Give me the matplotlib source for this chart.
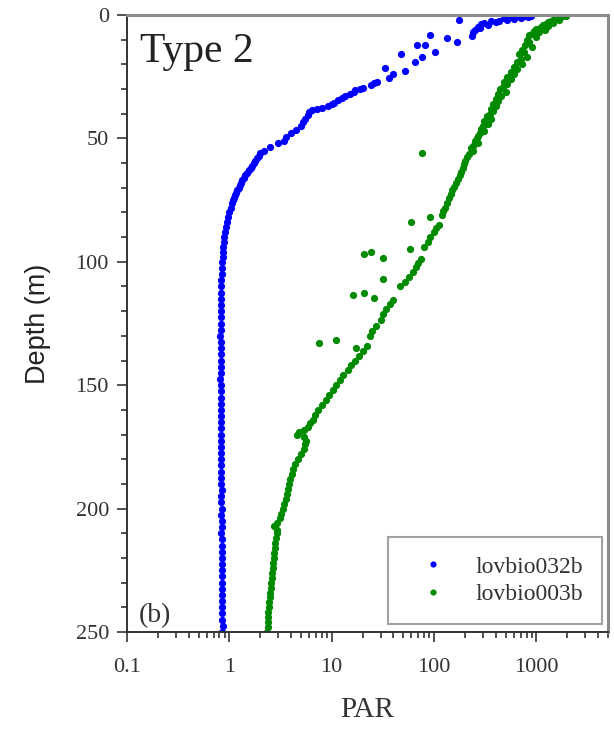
import numpy as np
import matplotlib
matplotlib.use("Agg")
import matplotlib.pyplot as plt
from matplotlib.ticker import LogLocator, FixedLocator, FixedFormatter, NullFormatter, MultipleLocator

SERIF = "Liberation Serif"
SANS = "Liberation Sans"

# profile lovbio032b (blue)
blue_depth = [0.3, 0.5, 0.6, 0.8, 1.0, 1.2, 1.4, 1.6, 1.9, 2.0,
              2.3, 2.6, 3.0, 3.3, 3.8, 4.2, 4.8, 5.3, 6.0, 7.0,
              8.0, 8.4, 9.3, 10.8, 12.0, 12.2, 15.0, 16.0, 17.0, 19.0,
              21.5, 22.5, 24.0, 25.5, 27.0, 27.5, 28.5, 29.5, 30.0, 30.5,
              31.0, 32.0, 33.0, 33.5, 34.5, 35.5, 36.0, 37.0, 37.5, 38.0,
              38.5, 39.5, 40.5, 42.0, 43.5, 45.0, 46.5, 48.0, 49.5, 51.0,
              52.0, 53.5, 55.0, 56.0, 57.0, 58.0, 59.0, 60.0, 61.0, 62.0,
              63.0, 64.0, 65.0, 66.0, 67.0, 68.0, 69.0, 70.0, 71.0, 72.0,
              73.0, 74.0, 75.0, 76.0, 78.0, 80.0, 82.0, 84.0, 86.0, 88.0,
              90.0, 92.0, 94.0, 96.0, 98.0,
              100.0, 102.5, 105.0, 107.5, 110.0, 112.5, 115.0, 117.5, 120.0, 122.5,
              125.0, 127.5, 130.0, 132.5, 135.0, 137.5, 140.0, 142.5, 145.0, 147.5,
              150.0, 152.5, 155.0, 157.5, 160.0, 162.5, 165.0, 167.5, 170.0, 172.5,
              175.0, 177.5, 180.0, 182.5, 185.0, 187.5, 190.0, 192.5, 195.0, 197.5,
              200.0, 202.5, 205.0, 207.5, 210.0, 212.5, 215.0, 217.5, 220.0, 222.5,
              225.0, 227.5, 230.0, 232.5, 235.0, 237.5, 240.0, 242.5, 245.0, 247.5,
              250.0]
blue_par = [880, 760, 650, 560, 820, 700, 480, 600, 176, 520,
            430, 360, 400, 310, 290, 340, 270, 280, 250, 240,
            91, 235, 134, 168, 81, 68, 102, 48, 76, 65,
            33, 52, 40, 36, 28, 26, 24, 20, 19, 17,
            16.5, 15, 13.5, 12.5, 11.5, 10.5, 10.0, 9.2, 8.0, 7.2,
            6.4, 6.0, 5.8, 5.5, 5.2, 5.0, 4.5, 4.0, 3.6, 3.4,
            3.0, 2.5, 2.2, 2.0, 1.95, 1.85, 1.8, 1.75, 1.68, 1.62,
            1.55, 1.48, 1.42, 1.38, 1.33, 1.3, 1.27, 1.24, 1.2, 1.17,
            1.14, 1.11, 1.09, 1.07, 1.03, 1.0, 0.97, 0.94, 0.92, 0.9,
            0.89, 0.88, 0.87, 0.86, 0.86,
            0.85, 0.84, 0.84, 0.83, 0.83, 0.82, 0.83, 0.82, 0.82, 0.83,
            0.82, 0.82, 0.81, 0.82, 0.82, 0.83, 0.82, 0.82, 0.82, 0.81,
            0.82, 0.82, 0.83, 0.82, 0.82, 0.82, 0.83, 0.82, 0.82, 0.82,
            0.82, 0.83, 0.83, 0.82, 0.83, 0.83, 0.83, 0.84, 0.83, 0.83,
            0.84, 0.83, 0.84, 0.84, 0.83, 0.84, 0.84, 0.84, 0.85, 0.84,
            0.84, 0.85, 0.84, 0.85, 0.85, 0.84, 0.85, 0.85, 0.85, 0.86,
            0.85]

# profile lovbio003b (green)
green_depth = [0.3, 0.6, 1.0, 1.3, 1.6, 2.0, 2.4, 2.8, 3.2, 3.6,
               4.0, 4.5, 5.0, 5.5, 6.0, 6.5, 7.0, 7.5, 8.0, 9.0,
               10.0, 11.0, 12.0, 13.0, 14.0, 15.0, 16.0, 17.0, 18.0, 19.0,
               20.0, 21.0, 22.0, 23.0, 24.0, 25.0, 26.0, 27.0, 28.0, 29.0,
               30.0, 31.0, 32.0, 33.0, 34.0, 35.0, 36.0, 37.0, 38.0, 39.0,
               40.0, 41.0, 42.0, 43.0, 44.0, 45.0, 46.0, 47.0, 48.0, 49.0,
               50.0, 51.0, 52.0, 53.0, 54.0, 55.0, 56.0, 56.5, 57.5, 59.0,
               60.5, 62.0, 63.5, 65.0, 66.5, 68.0, 69.5, 71.0, 72.5, 74.0,
               76.0, 78.0, 79.5, 81.0, 82.0, 84.0, 85.0, 86.5, 88.0, 90.0,
               92.0, 94.0, 95.0, 96.0, 97.0, 98.5, 99.0, 100.5, 102.0, 104.0,
               106.0, 107.0, 108.0, 110.0, 112.6, 113.5, 114.7, 115.5, 117.0, 119.0,
               121.0, 123.5, 126.0, 128.0, 130.0, 131.7, 133.0, 134.0, 135.0, 136.0,
               138.0, 140.0, 142.0, 144.0, 146.0, 148.0, 150.0, 152.0, 154.0, 156.0,
               158.0, 160.0, 162.0, 164.0, 165.5, 167.0, 168.0, 169.0, 170.0, 171.0,
               172.5, 174.0, 176.0, 178.0, 180.0, 182.0, 184.0, 186.0, 188.0, 190.0,
               192.0, 194.0, 196.0, 198.0, 200.0, 202.0, 204.0, 206.0, 207.0, 208.5,
               210.0, 212.0, 214.0, 216.0, 218.0, 220.0, 222.0, 224.0, 226.0, 228.0,
               230.0, 232.0, 234.0, 236.0, 238.0, 240.0, 242.0, 244.0, 246.0, 248.0,
               250.0]
green_par = [1950, 1800, 1700, 1600, 1500, 1650, 1400, 1300, 1450, 1250,
             1150, 1300, 1100, 1000, 1200, 950, 1050, 900, 850, 1000,
             800, 850, 780, 900, 720, 760, 680, 800, 700, 640,
             720, 600, 650, 560, 600, 520, 560, 480, 520, 470,
             440, 500, 420, 450, 400, 420, 380, 400, 360, 380,
             350, 330, 360, 310, 340, 300, 290, 310, 280, 270,
             260, 250, 270, 240, 230, 240, 76, 220, 210, 200,
             195, 190, 182, 178, 172, 165, 158, 150, 145, 140,
             135, 128, 122, 119, 91, 60, 112, 105, 100, 92,
             88, 80, 58, 24, 20.6, 32, 75, 70, 66, 62,
             57, 32, 52, 46, 20.5, 16.3, 25.6, 40, 37, 34,
             32, 30, 27, 25, 23.5, 11, 7.5, 22, 17.4, 20,
             18.5, 17, 15.5, 14.5, 13, 12, 11, 10.2, 9.5, 8.7,
             8.0, 7.4, 6.9, 6.5, 6.2, 5.9, 5.4, 4.8, 4.6, 5.3,
             5.6, 5.5, 5.3, 5.0, 4.7, 4.4, 4.2, 4.05, 3.95, 3.85,
             3.72, 3.62, 3.55, 3.45, 3.35, 3.22, 3.1, 2.9, 2.75, 2.9,
             2.95, 2.85, 2.8, 2.78, 2.74, 2.7, 2.68, 2.65, 2.62, 2.6,
             2.57, 2.54, 2.51, 2.48, 2.46, 2.44, 2.41, 2.39, 2.38, 2.36,
             2.33]

x_ticks = [0.1, 1, 10, 100, 1000]
x_labels = ["0.1", "1", "10", "100", "1000"]
y_ticks = [0, 50, 100, 150, 200, 250]

fig = plt.figure(figsize=(6.14, 7.35), dpi=100)
ax = fig.add_axes([127 / 614, 1 - 632 / 735, 481 / 614, 617 / 735])

ax.plot(blue_par, blue_depth, "o", ms=5.2, mec="none", color="#0000ff", label="lovbio032b")
ax.plot(green_par, green_depth, "o", ms=5.2, mec="none", color="#008a00", label="lovbio003b")

ax.set_xscale("log")
ax.set_xlim(0.1, 5000)
ax.set_ylim(250, 0)
ax.xaxis.set_major_locator(FixedLocator(x_ticks))
ax.xaxis.set_major_formatter(FixedFormatter(x_labels))
ax.xaxis.set_minor_locator(LogLocator(base=10, subs=np.arange(2, 10)))
ax.xaxis.set_minor_formatter(NullFormatter())
ax.yaxis.set_major_locator(FixedLocator(y_ticks))
ax.yaxis.set_minor_locator(MultipleLocator(10))

ax.tick_params(which="both", direction="out", color="#333", width=1.2)
ax.tick_params(which="major", length=7, labelsize=16, labelcolor="#333")
ax.tick_params(which="minor", length=4)
ax.tick_params(axis="x", which="major", pad=12)
ax.tick_params(axis="y", which="major", pad=6)
for lab in ax.get_xticklabels() + ax.get_yticklabels():
    lab.set_fontfamily(SERIF)

for s in ("left", "bottom"):
    ax.spines[s].set_color("#333")
    ax.spines[s].set_linewidth(1.4)
for s in ("top", "right"):
    ax.spines[s].set_color("#8a8a8a")
    ax.spines[s].set_linewidth(2.2)

ax.set_xlabel("PAR", fontsize=21, family=SERIF, color="#333", labelpad=14)
ax.set_ylabel("Depth (m)", fontsize=19.5, family=SANS, color="#222", labelpad=18)

ax.text(0.027, 0.924, "Type 2", transform=ax.transAxes, fontsize=30, family=SERIF,
        color="#222", va="baseline")
ax.text(0.025, 0.016, "(b)", transform=ax.transAxes, fontsize=20, family=SERIF,
        color="#333", va="baseline")

leg = ax.legend(loc="lower right", bbox_to_anchor=(0.9875, 0.013), borderaxespad=0,
                prop={"family": SERIF, "size": 17}, handlelength=2.2, handletextpad=0.7,
                borderpad=0.8, labelspacing=0.25, fancybox=False, markerscale=0.85)
leg.get_frame().set_edgecolor("#8a8a8a")
leg.get_frame().set_linewidth(1.5)
for t in leg.get_texts():
    t.set_color("#333")

fig.savefig("out.png", dpi=100)
